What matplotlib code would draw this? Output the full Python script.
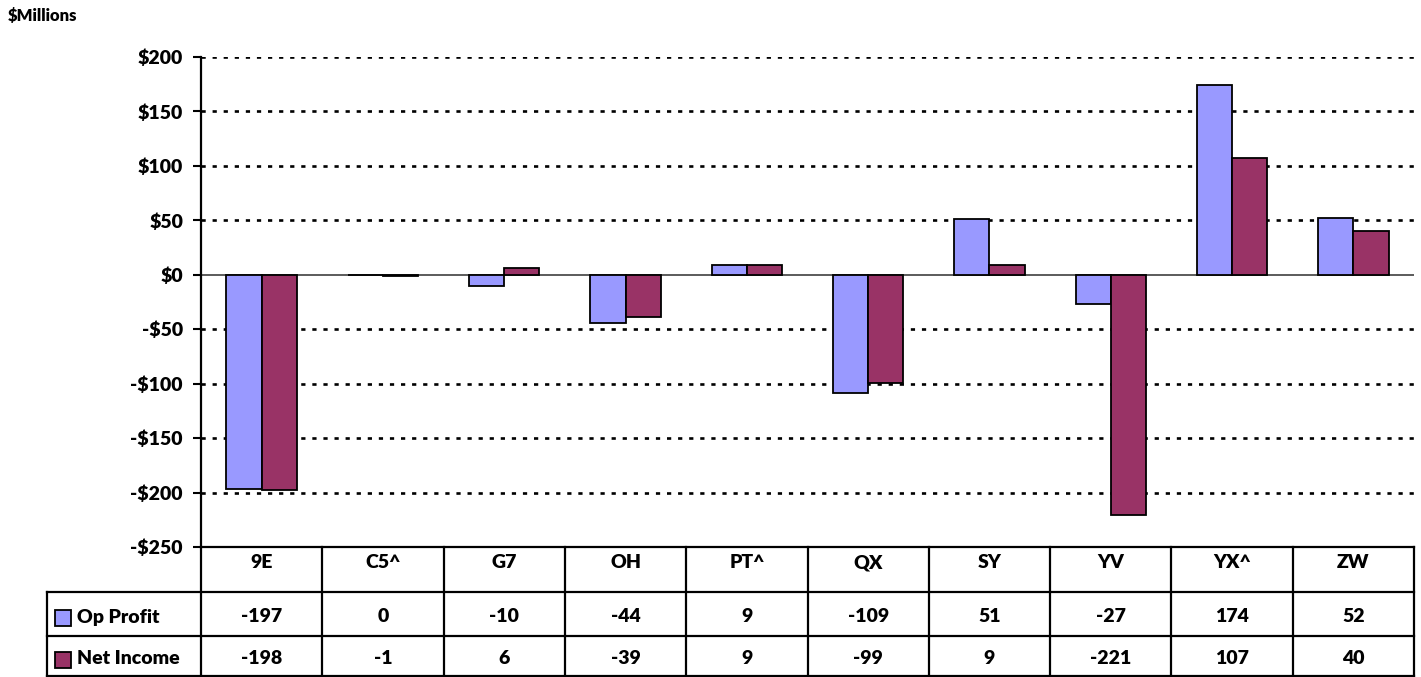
import numpy as np
import matplotlib
matplotlib.use('Agg')
import matplotlib.pyplot as plt
from matplotlib.patches import Rectangle
from matplotlib.lines import Line2D
import matplotlib.transforms as mtransforms

# data
categories = ['9E', 'C5^', 'G7', 'OH', 'PT^', 'QX', 'SY', 'YV', 'YX^', 'ZW']
op_profit = [-197, 0, -10, -44, 9, -109, 51, -27, 174, 52]
net_income = [-198, -1, 6, -39, 9, -99, 9, -221, 107, 40]
series_names = ['Op Profit', 'Net Income']
series_colors = ['#9999FF', '#993366']
y_ticks = np.arange(-250, 201, 50)

plt.rcParams['font.family'] = ['Lato', 'DejaVu Sans']
plt.rcParams['font.weight'] = 'heavy'
FS = 14

W, H = 1421, 677
fig = plt.figure(figsize=(W / 100, H / 100), dpi=100)
L, R, T, B = 201, 1414, 57, 547
ax = fig.add_axes([L / W, 1 - B / H, (R - L) / W, (B - T) / H])

x = np.arange(len(categories))
bw = 0.29
ax.bar(x - bw / 2, op_profit, bw, color=series_colors[0], edgecolor='black', linewidth=1.3, zorder=3)
ax.bar(x + bw / 2, net_income, bw, color=series_colors[1], edgecolor='black', linewidth=1.3, zorder=3)

ax.set_xlim(-0.5, len(categories) - 0.5)
ax.set_ylim(y_ticks[0], y_ticks[-1])
ax.set_yticks(y_ticks)
ax.set_yticklabels(['-$%d' % -v if v < 0 else '$%d' % v for v in y_ticks])
ax.tick_params(axis='y', length=6, width=1.5, pad=7, labelsize=FS)
ax.tick_params(axis='x', bottom=False, labelbottom=False)

for v in y_ticks:
    if v != 0 and v != y_ticks[0]:
        ax.axhline(v, color='black', lw=1.9, ls=(0, (1.6, 2.6)), zorder=1)
ax.axhline(0, color='#404040', lw=1.2, zorder=2)

for s in ['top', 'right', 'bottom']:
    ax.spines[s].set_visible(False)
ax.spines['left'].set_linewidth(1.6)

# data table below the plot (pixel -> axes fraction)
def fx(px):
    return (px - L) / (R - L)

def fy(py):
    return (B - py) / (B - T)

left_col = 47
row_lines = [B, 592, 636, 676]
tl = dict(transform=ax.transAxes, clip_on=False, color='black', lw=1.6)
ax.add_line(Line2D([fx(L), fx(R)], [fy(B), fy(B)], **tl))
for py in row_lines[1:]:
    ax.add_line(Line2D([fx(left_col), fx(R)], [fy(py), fy(py)], **tl))
cw = (R - L) / len(categories)
for k in range(len(categories) + 1):
    px = L + k * cw
    ax.add_line(Line2D([fx(px), fx(px)], [fy(B), fy(676)], **tl))
ax.add_line(Line2D([fx(left_col), fx(left_col)], [fy(592), fy(676)], **tl))

trans = mtransforms.blended_transform_factory(ax.transData, ax.transAxes)
for i, c in enumerate(categories):
    ax.text(i, fy(563), c, transform=trans, ha='center', va='center', fontsize=FS)
    ax.text(i, fy(617), '%d' % op_profit[i], transform=trans, ha='center', va='center', fontsize=FS)
    ax.text(i, fy(659), '%d' % net_income[i], transform=trans, ha='center', va='center', fontsize=FS)

for name, col, yc in zip(series_names, series_colors, [618, 660]):
    ax.add_patch(Rectangle((fx(55), fy(yc + 8)), fx(71) - fx(55), fy(yc - 8) - fy(yc + 8),
                           transform=ax.transAxes, clip_on=False, facecolor=col,
                           edgecolor='black', lw=1.3))
    ax.text(fx(77), fy(yc - 1), name, transform=ax.transAxes, ha='left', va='center', fontsize=FS)

fig.text(8 / W, 1 - 16 / H, '$Millions', ha='left', va='center', fontsize=12)

fig.savefig('out.png', dpi=100)
